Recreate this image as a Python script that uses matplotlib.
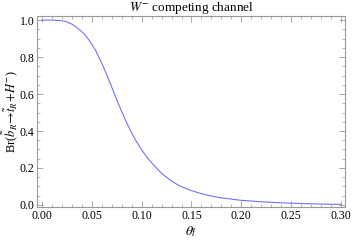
import matplotlib
matplotlib.use("Agg")
import matplotlib.pyplot as plt
from matplotlib.ticker import MultipleLocator

plt.rcParams['font.family'] = ['Liberation Serif', 'DejaVu Serif']
plt.rcParams['mathtext.fontset'] = 'stix'

theta = [0.0, 0.010, 0.014, 0.020, 0.024, 0.030, 0.034, 0.040, 0.044, 0.050, 0.054,
         0.060, 0.064, 0.070, 0.074, 0.080, 0.084, 0.090, 0.094, 0.100, 0.104,
         0.108, 0.113, 0.118, 0.123, 0.128, 0.133, 0.138, 0.148, 0.158, 0.168,
         0.178, 0.198, 0.218, 0.238, 0.258, 0.278, 0.300]
br = [1.0, 1.0, 0.999, 0.996, 0.992, 0.978, 0.964, 0.937, 0.915, 0.870, 0.834,
      0.766, 0.717, 0.637, 0.582, 0.505, 0.456, 0.388, 0.350, 0.298, 0.268,
      0.241, 0.210, 0.182, 0.158, 0.137, 0.119, 0.104, 0.081, 0.064, 0.050,
      0.040, 0.026, 0.018, 0.012, 0.008, 0.005, 0.003]

fig = plt.figure(figsize=(3.53, 2.40), dpi=100)
ax = fig.add_axes([37/353, 33/240, (345-37)/353, (207-16)/240])

ax.plot(theta, br, color='#6a6aff', lw=0.75)

ax.set_xlim(-0.005, 0.304)
ax.set_ylim(-0.011, 1.022)
ax.xaxis.set_major_locator(MultipleLocator(0.05))
ax.xaxis.set_minor_locator(MultipleLocator(0.01))
ax.yaxis.set_major_locator(MultipleLocator(0.2))
ax.yaxis.set_minor_locator(MultipleLocator(0.05))
ax.xaxis.set_major_formatter(plt.FuncFormatter(lambda v, p: f"{v:.2f}"))
ax.yaxis.set_major_formatter(plt.FuncFormatter(lambda v, p: f"{v:.1f}"))

gray = '#999999'
for s in ax.spines.values():
    s.set_color(gray)
    s.set_linewidth(0.8)
ax.tick_params(which='both', direction='in', top=True, right=True, color=gray,
               labelsize=8.5, pad=2, labelcolor='black')
ax.tick_params(which='major', length=4, width=0.6)
ax.tick_params(which='minor', length=2, width=0.5)

ax.set_title(r"$W^{-}$ competing channel", fontsize=9.5, pad=2)
ax.set_xlabel(r"$\theta_{\tilde{t}}$", fontsize=10, labelpad=2)
ax.set_ylabel(r"Br($\tilde{b}_R\!\rightarrow\!\tilde{t}_R\!+\!H^{-}$)", fontsize=9, va='center')
ax.yaxis.set_label_coords(-(37 - 10) / (345 - 37), 0.5)

fig.savefig("out.png", dpi=100)
